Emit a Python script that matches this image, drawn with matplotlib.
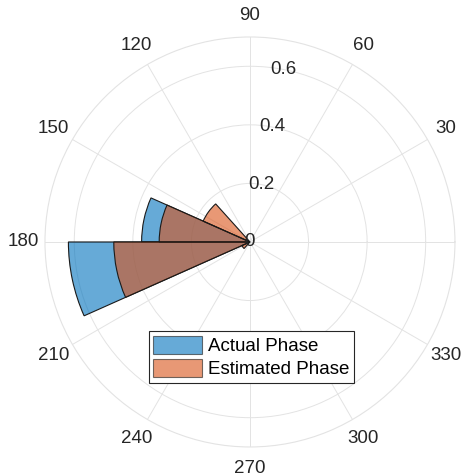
import matplotlib.pyplot as plt
import numpy as np

# histogram bins (degrees) and probabilities
bin_edges = [132, 156, 180, 204, 228]
actual_phase = [0.0, 0.37, 0.62, 0.0]
estimated_phase = [0.175, 0.31, 0.465, 0.03]

theta_ticks = [0, 30, 60, 90, 120, 150, 180, 210, 240, 270, 300, 330]
r_ticks = [0, 0.2, 0.4, 0.6]
r_labels = ['0', '0.2', '0.4', '0.6']

plt.rcParams['font.family'] = ['Liberation Sans', 'DejaVu Sans']

edges = np.deg2rad(bin_edges)
centers = (edges[:-1] + edges[1:]) / 2
widths = np.diff(edges)

fig = plt.figure(figsize=(4.72, 4.74), dpi=100)
ax = fig.add_axes([0.0953, 0.057, 0.8686, 0.865], projection='polar')

b1 = ax.bar(centers, actual_phase, width=widths, color=(0, 0.447, 0.741), alpha=0.6,
            edgecolor='none', label='Actual Phase', zorder=2)
ax.bar(centers, actual_phase, width=widths, color='none', edgecolor='#1a1a1a',
       linewidth=0.8, zorder=2)
b2 = ax.bar(centers, estimated_phase, width=widths, color=(0.85, 0.325, 0.098), alpha=0.6,
            edgecolor='none', label='Estimated Phase', zorder=3)
ax.bar(centers, estimated_phase, width=widths, color='none', edgecolor='#1a1a1a',
       linewidth=0.8, zorder=3)

ax.set_ylim(0, 0.7)
ax.set_thetagrids(theta_ticks, [str(t) for t in theta_ticks])
ax.set_rgrids(r_ticks, [''] * len(r_ticks))
ax.tick_params(axis='x', labelsize=13.5, colors='#262626', pad=5)
ax.grid(color='#e3e3e3', linewidth=0.7)
ax.spines['polar'].set_color('#e3e3e3')
ax.set_axisbelow(True)

# radial labels sit on the rings along the 79 degree line
for r, lab in zip(r_ticks, r_labels):
    ax.text(np.deg2rad(79), r, lab, ha='center', va='center', fontsize=13.5,
            color='#262626', zorder=5)

leg = fig.legend(handles=[b1, b2], loc='center', bbox_to_anchor=(0.532, 0.247),
                 fancybox=False, framealpha=1, edgecolor='#262626', fontsize=13.5,
                 handlelength=2.6, handleheight=1.1, handletextpad=0.3,
                 borderpad=0.25, labelspacing=0.2, borderaxespad=0)
leg.get_frame().set_linewidth(0.8)
for h in leg.legend_handles:
    h.set_edgecolor('#1a1a1a')
    h.set_linewidth(0.8)

fig.savefig('out.png', dpi=100)
